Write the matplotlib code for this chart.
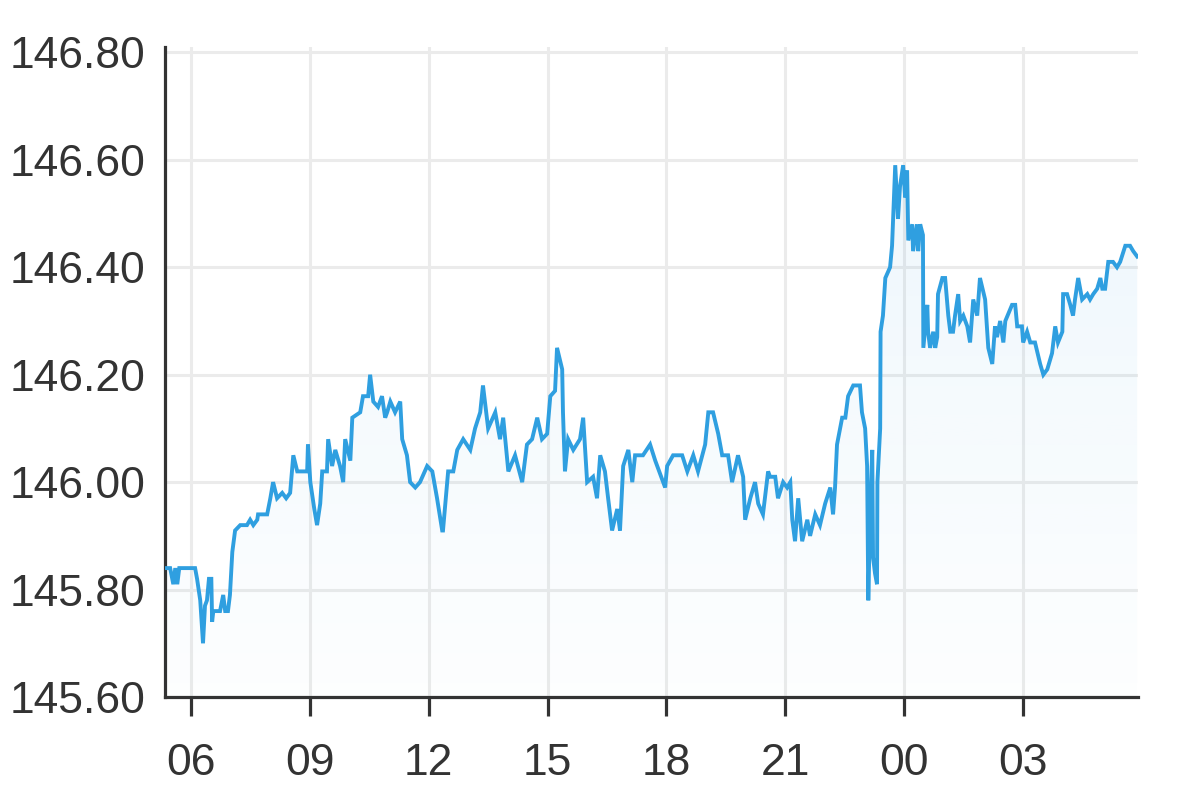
import numpy as np
import matplotlib.pyplot as plt
from matplotlib.colors import to_rgb

plt.rcParams['font.family'] = ['Liberation Sans', 'DejaVu Sans']

# horas desde las 00:00 del primer día (24 = 00 del día siguiente)
hours = [5.39, 5.47, 5.55, 5.60, 5.65, 5.70, 6.10, 6.15, 6.23, 6.30, 6.35, 6.40, 6.45, 6.51, 6.53,
         6.56, 6.73, 6.81, 6.86, 6.93, 6.98, 7.04, 7.11, 7.24, 7.41, 7.49, 7.57, 7.67, 7.69, 7.92,
         8.00, 8.07, 8.17, 8.30, 8.40, 8.50, 8.58, 8.68, 8.93, 8.95, 9.01, 9.11, 9.18, 9.26, 9.31,
         9.43, 9.46, 9.56, 9.64, 9.76, 9.84, 9.89, 10.02, 10.07, 10.27, 10.34, 10.47, 10.52, 10.60,
         10.72, 10.82, 10.90, 10.95, 11.03, 11.15, 11.28, 11.33, 11.45, 11.53, 11.66, 11.78, 11.96,
         12.09, 12.21, 12.34, 12.36, 12.49, 12.62, 12.72, 12.87, 13.05, 13.17, 13.30, 13.37, 13.50,
         13.68, 13.80, 13.88, 14.01, 14.18, 14.36, 14.48, 14.61, 14.74, 14.86, 14.99, 15.07, 15.19,
         15.24, 15.37, 15.39, 15.44, 15.52, 15.65, 15.82, 15.90, 16.00, 16.15, 16.25, 16.33, 16.45,
         16.53, 16.63, 16.76, 16.83, 16.91, 17.04, 17.14, 17.21, 17.41, 17.59, 17.72, 17.97, 18.02,
         18.17, 18.40, 18.53, 18.68, 18.80, 18.98, 19.06, 19.18, 19.31, 19.41, 19.56, 19.66, 19.81,
         19.94, 19.99, 20.12, 20.24, 20.32, 20.44, 20.57, 20.62, 20.75, 20.82, 20.95, 21.05, 21.13,
         21.18, 21.25, 21.33, 21.43, 21.56, 21.63, 21.76, 21.88, 22.01, 22.14, 22.21, 22.26, 22.31,
         22.44, 22.52, 22.59, 22.72, 22.89, 22.94, 23.02, 23.07, 23.10, 23.15, 23.20, 23.22, 23.27,
         23.32, 23.33, 23.40, 23.41, 23.47, 23.53, 23.65, 23.70, 23.78, 23.85, 23.90, 23.98, 24.03,
         24.08, 24.11, 24.21, 24.23, 24.33, 24.36, 24.41, 24.48, 24.49, 24.59, 24.61, 24.66, 24.74,
         24.79, 24.84, 24.86, 24.97, 25.04, 25.12, 25.17, 25.24, 25.29, 25.37, 25.42, 25.50, 25.60,
         25.67, 25.75, 25.85, 25.92, 26.05, 26.13, 26.23, 26.30, 26.35, 26.43, 26.51, 26.56, 26.73,
         26.81, 26.86, 26.98, 27.01, 27.11, 27.19, 27.31, 27.44, 27.52, 27.62, 27.74, 27.82, 27.89,
         28.00, 28.02, 28.12, 28.20, 28.27, 28.32, 28.40, 28.50, 28.63, 28.70, 28.78, 28.88, 28.96,
         29.01, 29.08, 29.16, 29.28, 29.38, 29.46, 29.59, 29.71, 29.79, 29.89]

prices = [145.84, 145.84, 145.81, 145.84, 145.81, 145.84, 145.84, 145.82, 145.78, 145.70, 145.77, 145.78, 145.82, 145.82, 145.74,
          145.76, 145.76, 145.79, 145.76, 145.76, 145.79, 145.87, 145.91, 145.92, 145.92, 145.93, 145.92, 145.93, 145.94, 145.94,
          145.97, 146.00, 145.97, 145.98, 145.97, 145.98, 146.05, 146.02, 146.02, 146.07, 146.00, 145.95, 145.92, 145.96, 146.02,
          146.02, 146.08, 146.03, 146.06, 146.03, 146.00, 146.08, 146.04, 146.12, 146.13, 146.16, 146.16, 146.20, 146.15,
          146.14, 146.16, 146.12, 146.13, 146.15, 146.13, 146.15, 146.08, 146.05, 146.00, 145.99, 146.00, 146.03,
          146.02, 145.97, 145.91, 145.91, 146.02, 146.02, 146.06, 146.08, 146.06, 146.10, 146.13, 146.18, 146.10,
          146.13, 146.08, 146.12, 146.02, 146.05, 146.00, 146.07, 146.08, 146.12, 146.08, 146.09, 146.16, 146.17,
          146.25, 146.21, 146.13, 146.02, 146.08, 146.06, 146.08, 146.12, 146.00, 146.01, 145.97, 146.05, 146.02,
          145.97, 145.91, 145.95, 145.91, 146.03, 146.06, 146.00, 146.05, 146.05, 146.07, 146.04, 145.99, 146.03,
          146.05, 146.05, 146.02, 146.05, 146.02, 146.07, 146.13, 146.13, 146.09, 146.05, 146.05, 146.00, 146.05,
          146.01, 145.93, 145.97, 146.00, 145.96, 145.94, 146.02, 146.01, 146.01, 145.97, 146.00, 145.99, 146.00,
          145.93, 145.89, 145.97, 145.89, 145.93, 145.90, 145.94, 145.92, 145.96, 145.99, 145.94, 145.99, 146.07,
          146.12, 146.12, 146.16, 146.18, 146.18, 146.13, 146.10, 146.03, 145.78, 145.95, 146.06, 145.86, 145.83,
          145.81, 146.00, 146.10, 146.28, 146.31, 146.38, 146.40, 146.44, 146.59, 146.49, 146.55, 146.59, 146.53,
          146.58, 146.45, 146.48, 146.43, 146.48, 146.43, 146.48, 146.46, 146.25, 146.33, 146.28, 146.25, 146.28,
          146.25, 146.27, 146.35, 146.38, 146.38, 146.31, 146.28, 146.28, 146.31, 146.35, 146.30, 146.31, 146.29,
          146.26, 146.34, 146.31, 146.38, 146.34, 146.25, 146.22, 146.29, 146.27, 146.30, 146.26, 146.30, 146.33,
          146.33, 146.29, 146.29, 146.26, 146.28, 146.26, 146.26, 146.22, 146.20, 146.21, 146.24, 146.29, 146.26,
          146.28, 146.35, 146.35, 146.33, 146.31, 146.34, 146.38, 146.34, 146.35, 146.34, 146.35, 146.36, 146.38,
          146.36, 146.36, 146.41, 146.41, 146.40, 146.41, 146.44, 146.44, 146.43, 146.42]

x_ticks = [6, 9, 12, 15, 18, 21, 24, 27]
x_labels = ['06', '09', '12', '15', '18', '21', '00', '03']
y_ticks = [145.60, 145.80, 146.00, 146.20, 146.40, 146.60, 146.80]

line_color = '#2f9fe0'
ink = '#333333'

fig = plt.figure(figsize=(11.87, 8.09), dpi=100)
ax = fig.add_axes([0.139, 0.1384, 0.8197, 0.8035])

y_min, y_max = 145.60, 146.81
x_min, x_max = 5.34, 29.91

# relleno degradado bajo la línea
poly = ax.fill_between(hours, prices, y_min, color='none', lw=0)
rgb = to_rgb(line_color)
grad = np.zeros((256, 1, 4))
grad[:, 0, :3] = rgb
grad[:, 0, 3] = np.linspace(0.01, 0.08, 256)
im = ax.imshow(grad, extent=[x_min, x_max, y_min, max(prices)], origin='lower',
               aspect='auto', zorder=1)
im.set_clip_path(poly.get_paths()[0], transform=ax.transData)

ax.plot(hours, prices, color=line_color, lw=2.8, zorder=3, solid_joinstyle='miter')

ax.set_xlim(x_min, x_max)
ax.set_ylim(y_min, y_max)
ax.set_xticks(x_ticks)
ax.set_xticklabels(x_labels)
ax.set_yticks(y_ticks)
ax.set_yticklabels([f'{v:.2f}' for v in y_ticks])

ax.grid(True, color='#ebebeb', lw=2.2, zorder=0)
ax.set_axisbelow(True)

for s in ['top', 'right']:
    ax.spines[s].set_visible(False)
for s in ['left', 'bottom']:
    ax.spines[s].set_color(ink)
    ax.spines[s].set_linewidth(2.3)

ax.tick_params(axis='x', length=14, width=2.3, color=ink, labelsize=32,
               labelcolor=ink, pad=19)
ax.tick_params(axis='y', length=0, labelsize=32, labelcolor=ink, pad=14)

plt.savefig('out.png', dpi=100)
